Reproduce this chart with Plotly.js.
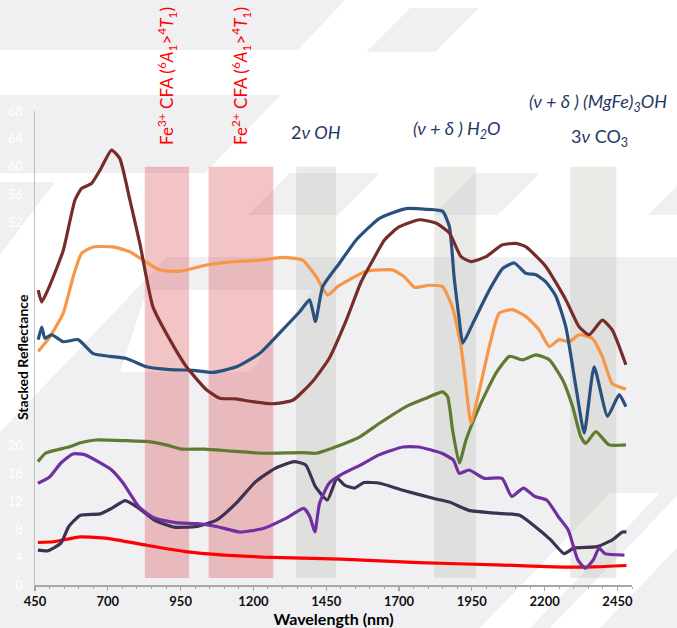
<!DOCTYPE html>
<html><head><meta charset="utf-8">
<script src="https://cdn.plot.ly/plotly-3.0.1.min.js"></script>
<style>html,body{margin:0;padding:0;background:#fff}#chart{width:677px;height:628px}</style>
</head><body><div id="chart"></div>
<script>
// ---- data (wavelength nm, stacked reflectance) ----
const maroonWl  = [461,473,501,547,587,610,644,673,713,741,776,810,855,913,970,1039,1084,1140,1197,1266,1335,1403,1460,1519,1570,1610,1650,1701,1770,1828,1873,1913,1947,1999,2055,2102,2136,2204,2273,2319,2353,2398,2432,2479];
const maroonVal = [42.3,40.6,43,48,55.2,56.9,57.6,59.5,62.4,61.2,55.2,49,39.9,35.2,31.3,28,26.8,26.7,26.3,26,26.5,29.2,32.5,38,43.5,46.6,49.5,51.4,52.4,51.9,50.5,47.1,46.4,47.1,48.8,49,48.5,45.7,40.9,37,35.9,38,36.6,31.6];

const orangeWl  = [461,501,547,581,610,650,718,776,821,879,947,1039,1129,1221,1300,1369,1416,1455,1489,1530,1587,1677,1719,1753,1804,1849,1883,1913,1930,1947,1976,2010,2044,2089,2136,2181,2216,2250,2284,2319,2363,2398,2432,2479];
const orangeVal = [33.5,35.6,39,44.2,47.6,48.5,48.5,47.8,46.6,45.2,45,45.9,46.4,46.6,47,46.6,44.2,41.6,42.8,43.8,45,45.2,44.2,42.7,43,42.8,39.9,34.2,28.5,23.2,28,34.2,39,39.5,38.5,36.6,34.2,35.2,34.9,35.9,35.4,32.8,28.9,28.1];

const blueWl  = [461,473,484,507,547,598,650,707,764,833,913,993,1061,1142,1221,1300,1359,1393,1413,1438,1496,1553,1633,1724,1793,1850,1873,1890,1907,1919,1953,2010,2056,2096,2136,2170,2204,2239,2273,2307,2336,2370,2416,2456,2479];
const blueVal = [35.2,37,35.4,35.9,34.9,35.2,33.2,32.8,32.5,31.3,30.9,30.8,30.5,31.3,33.2,36.6,39.2,40.9,37.8,42.8,46.2,49.5,52.6,54,53.9,53.6,51.4,43.8,38,34.7,37.5,42.3,45.4,46.2,44.7,44.5,43.5,41.4,37,28.5,21.8,31.3,24.2,27.3,25.6];

const greenWl  = [460,486,526,566,606,659,766,833,900,953,1033,1126,1233,1367,1413,1500,1567,1633,1724,1793,1850,1867,1884,1907,1930,1976,2033,2079,2124,2170,2216,2262,2296,2324,2341,2376,2421,2479];
const greenVal = [17.7,18.9,19.4,19.8,20.4,20.8,20.7,20.6,20.1,19.5,19.5,19.2,18.9,19,18.9,20.1,21.3,23.2,25.6,26.8,27.7,27,22.2,17.5,20.8,25.6,30.4,32.8,32.3,33,32.3,29.4,25.6,21.3,20.3,22,20.1,20.1];

const purpleWl  = [460,500,539,580,620,713,753,807,860,940,1006,1073,1153,1233,1313,1373,1394,1411,1427,1460,1500,1567,1633,1713,1767,1847,1887,1907,1940,1993,2054,2087,2127,2167,2207,2247,2281,2314,2340,2367,2387,2407,2474];
const purpleVal = [14.6,15.5,17.5,18.8,18.7,16.5,14.6,11.2,9.6,8.9,8.8,8.4,7.6,8.1,9.6,11,9.8,7.6,11.7,14.6,15.8,17.2,18.7,19.8,19.8,18.9,17.9,16,16.5,15.3,15.3,12.7,13.9,12.7,12.2,9.8,7.9,3.6,2.4,3.6,5.3,4.5,4.3];

const navyWl  = [460,493,539,566,606,673,713,760,807,860,927,1006,1073,1140,1207,1273,1340,1380,1413,1454,1487,1514,1547,1580,1634,1713,1820,1873,1940,2034,2114,2167,2220,2267,2300,2380,2434,2467,2481];
const navyVal = [5,4.9,6,8.4,10,10.2,11,12.1,11,9.3,8.3,8.4,9.3,11.7,14.8,16.7,17.7,17.2,14.1,12.2,15.3,14.3,13.9,14.7,14.6,13.6,12.4,11.9,10.7,10.3,10,8.4,6.5,4.5,5.3,5.5,6.5,7.6,7.6];

const redWl  = [460,513,606,699,833,966,1100,1233,1500,1767,2034,2234,2367,2481];
const redVal = [6.1,6.2,6.9,6.7,5.7,4.8,4.3,4,3.7,3.2,2.9,2.6,2.6,2.8];

// absorption-feature bands [start nm, end nm]
const redBands  = [[827,979],[1046,1268]];
const grayBands = [[1347,1484],[1821,1964],[2288,2446]];
const bandLow = 1, bandHigh = 60;

// band labels
const bandLabels = [
  {x:903,  y:0.924, text:'Fe<sup>3+</sup> CFA (<sup>6</sup><i>A</i><sub>1</sub>&gt;<sup>4</sup><i>T</i><sub>1</sub>)', red:true},
  {x:1157, y:0.924, text:'Fe<sup>2+</sup> CFA (<sup>6</sup><i>A</i><sub>1</sub>&gt;<sup>4</sup><i>T</i><sub>1</sub>)', red:true},
  {x:1415, y:0.956, text:'2<i>ν OH</i>'},
  {x:1900, y:0.960, text:'<i>(ν + δ ) H<sub>2</sub>O</i>'},
  {x:2384, y:1.017, text:'<i>(ν + δ ) (MgFe)<sub>3</sub>OH</i>'},
  {x:2387, y:0.945, text:'3<i>ν</i> CO<sub>3</sub>'}
];

// ---- layout helpers ----
const L=35, R=45, T=111, B=43, W=677, H=628;
const pw=W-L-R, ph=H-T-B;
function pp(x,y){return ((x-L)/pw).toFixed(4)+','+((H-B-y)/ph).toFixed(4);}
function poly(pts){return 'M'+pts.map(p=>pp(p[0],p[1])).join('L')+'Z';}
const BG='#f0f0f3';
const grayPolys=[
  [[0,0],[345,0],[298,50],[0,50]],
  [[410,8],[479,8],[435,52],[366,52]],
  [[0,95],[281,95],[205,173],[0,173]],
  [[0,182],[55,182],[0,255]],
  [[290,173],[380,173],[338,215],[248,215]],
  [[475,173],[540,173],[498,215],[433,215]],
  [[690,173],[730,173],[688,215],[648,215]],
  [[167,257],[677,257],[677,628],[0,628],[0,432]]
];
const whitePolys=[
  [[147,290],[313,290],[250,372],[120,372]],
  [[480,628],[530,628],[660,493],[610,493]],
  [[550,628],[600,628],[677,548],[677,496]]
];
const shapes=[];
grayPolys.forEach(p=>shapes.push({type:'path',xref:'paper',yref:'paper',path:poly(p),fillcolor:BG,line:{width:0},layer:'below'}));
whitePolys.forEach(p=>shapes.push({type:'path',xref:'paper',yref:'paper',path:poly(p),fillcolor:'#ffffff',line:{width:0},layer:'below'}));
redBands.forEach(b=>shapes.push({type:'rect',xref:'x',yref:'y',x0:b[0],x1:b[1],y0:bandLow,y1:bandHigh,fillcolor:'rgba(218,86,89,0.35)',line:{width:0},layer:'below'}));
grayBands.forEach(b=>shapes.push({type:'rect',xref:'x',yref:'y',x0:b[0],x1:b[1],y0:bandLow,y1:bandHigh,fillcolor:'rgba(187,187,172,0.30)',line:{width:0},layer:'below'}));

const FONT='Lato';
const annotations=bandLabels.map(a=>a.red?
  {xref:'x',yref:'paper',x:a.x,y:a.y,text:a.text,textangle:-90,showarrow:false,xanchor:'center',yanchor:'bottom',
   font:{family:FONT,size:17,color:'#ff0000'}}:
  {xref:'x',yref:'paper',x:a.x,y:a.y,text:a.text,showarrow:false,xanchor:'center',yanchor:'middle',
   font:{family:FONT,size:18,color:'#1f3864'}});
annotations.push({xref:'paper',yref:'paper',x:(22-L)/pw,y:(H-B-357)/ph,text:'Stacked Reflectance',textangle:-90,
  showarrow:false,xanchor:'center',yanchor:'middle',font:{family:FONT,size:14,color:'#000',weight:'bold'}});

function tr(x,y,c){return {x:x,y:y,type:'scatter',mode:'lines',line:{color:c,width:3.2,shape:'spline',smoothing:0.5},hoverinfo:'skip'};}
const data=[
  tr(redWl,redVal,'#ff0000'),
  tr(navyWl,navyVal,'#3f3151'),
  tr(purpleWl,purpleVal,'#7030a0'),
  tr(greenWl,greenVal,'#617a31'),
  tr(orangeWl,orangeVal,'#f79646'),
  tr(blueWl,blueVal,'#2a507e'),
  tr(maroonWl,maroonVal,'#772c2a')
];

const layout={
  width:W,height:H,margin:{l:L,r:R,t:T,b:B},
  paper_bgcolor:'#ffffff',plot_bgcolor:'rgba(0,0,0,0)',
  showlegend:false,hovermode:false,
  xaxis:{range:[450,2500],tick0:450,dtick:250,ticks:'outside',ticklen:4,tickwidth:1.2,tickcolor:'#a6a6a6',
    showline:true,linecolor:'#a6a6a6',linewidth:1.5,showgrid:false,zeroline:false,
    minor:{dtick:50,ticks:'outside',ticklen:2,tickwidth:1,tickcolor:'#a6a6a6',showgrid:false},
    tickfont:{family:FONT,size:13,color:'#111',weight:'bold'},
    title:{text:'Wavelength (nm)',font:{family:FONT,size:16,color:'#000',weight:'bold'},standoff:0}},
  xaxis2:{overlaying:'x',matches:'x',anchor:'y',side:'bottom',ticks:'inside',ticklen:4,tickwidth:1.2,tickcolor:'#a6a6a6',
    tick0:450,dtick:250,showticklabels:false,showline:false,showgrid:false,zeroline:false,
    minor:{dtick:50,ticks:'inside',ticklen:2,tickwidth:1,tickcolor:'#a6a6a6',showgrid:false}},
  yaxis:{range:[0,68],tick0:0,dtick:4,ticks:'',showline:true,linecolor:'#bfbfbf',linewidth:1.5,showgrid:false,zeroline:false,
    tickfont:{family:FONT,size:13,color:'#ffffff'},ticklabelstandoff:8},
  shapes:shapes,annotations:annotations
};
Plotly.newPlot('chart',data,layout,{staticPlot:true});
</script></body></html>
